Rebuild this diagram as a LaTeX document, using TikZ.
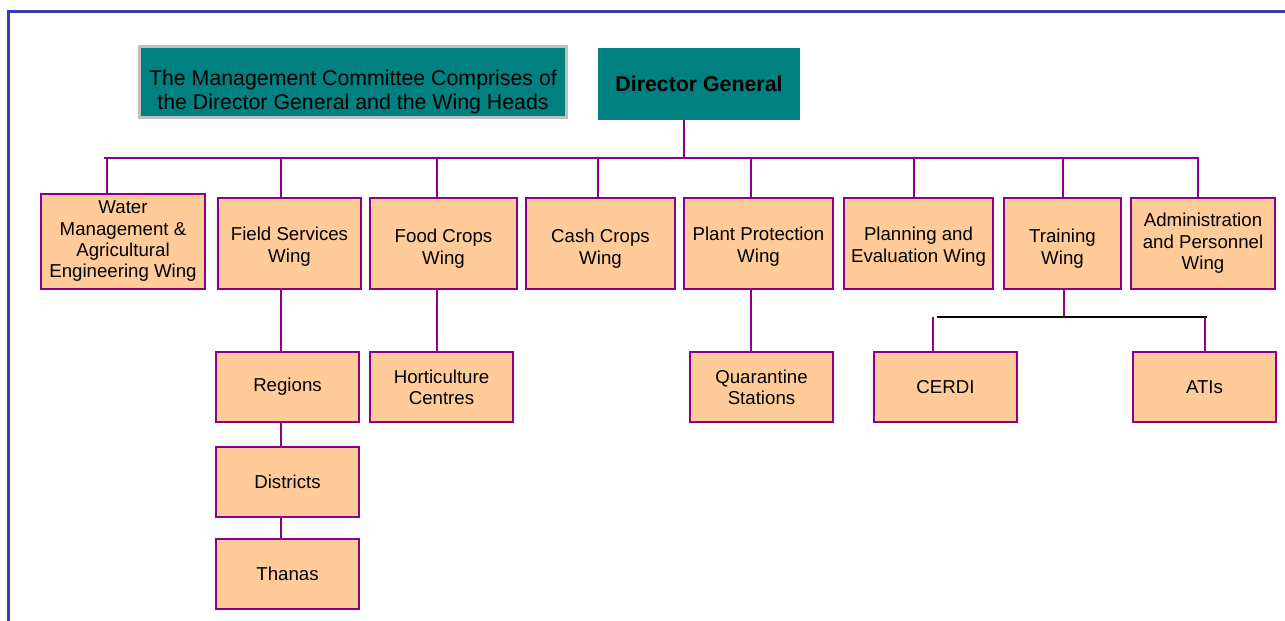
\documentclass[tikz,border=0pt]{standalone}
\usepackage{fontspec}
\setmainfont{Liberation Sans}
\usepackage{xcolor}
\usetikzlibrary{positioning}
\definecolor{wingfill}{RGB}{255,204,153}
\definecolor{wingline}{RGB}{140,0,140}
\definecolor{headfill}{RGB}{0,128,128}
\definecolor{notegray}{RGB}{192,192,192}
\definecolor{frameblue}{RGB}{60,60,170}

\begin{document}
\begin{tikzpicture}[
    x=0.75pt, y=-0.75pt,
    head/.style={fill=headfill, align=center, inner sep=2pt},
    wing/.style={draw=wingline, fill=wingfill, line width=1.5pt, align=center, inner sep=2pt, minimum height=68.25pt, font=\fontsize{14}{16}\selectfont},
    unit/.style={wing, minimum width=107.25pt, minimum height=52.5pt},
    link/.style={draw=wingline, line width=1.5pt},
    bar/.style={draw=black, line width=1.5pt}
]
\useasboundingbox (0,0) rectangle (1285,621);

% page frame
\draw[frameblue, line width=2.25pt] (8,621) -- (8,11) -- (1285,11);

% Top
\node[head, draw=notegray, line width=2.25pt, minimum width=320.25pt, minimum height=53.25pt, font=\fontsize{16}{18}\selectfont] (committee) at (353,82) {\rule{0pt}{26pt}The Management Committee Comprises of\\the Director General and the Wing Heads};
\node[head, minimum width=151.5pt, minimum height=54pt, font=\fontsize{16}{18}\selectfont\bfseries] (dg) at (699,84) {Director General};

% Wings
\node[wing, minimum width=123pt, minimum height=71.25pt] (water) at (123,241.5) {Water\\Management \&\\Agricultural\\Engineering Wing};
\node[wing, minimum width=107.25pt] (field) at (289.5,243.5) {\rule{0pt}{15pt}Field Services\\Wing};
\node[wing, minimum width=110.25pt] (food) at (443.5,243.5) {\rule{0pt}{18pt}Food Crops\\Wing};
\node[wing, minimum width=111.75pt] (cash) at (600.5,243.5) {\rule{0pt}{18pt}Cash Crops\\Wing};
\node[wing, minimum width=111.75pt] (plant) at (758.5,243.5) {\rule{0pt}{15pt}Plant Protection\\Wing};
\node[wing, minimum width=111.75pt] (planning) at (918.5,243.5) {\rule{0pt}{15pt}Planning and\\Evaluation Wing};
\node[wing, minimum width=87.75pt] (training) at (1062.5,243.5) {\rule{0pt}{18pt}Training\\Wing};
\node[wing, minimum width=108pt] (admin) at (1203,243.5) {Administration\\and Personnel\\Wing};

% Units
\node[unit] (regions) at (287.5,387) {Regions};
\node[unit] (districts) at (287.5,482) {Districts};
\node[unit] (thanas) at (287.5,574) {Thanas};
\node[unit] (hort) at (441.5,387) {Horticulture\\Centres};
\node[unit] (quarantine) at (761.5,387) {Quarantine\\Stations};
\node[unit] (cerdi) at (945.5,387) {CERDI};
\node[unit] (atis) at (1204.5,387) {ATIs};

% Bus
\coordinate (busL) at (104,158);
\coordinate (busR) at (1199,158);
\draw[link] (busL) -- (busR);
\draw[link] ([xshift=-11.25pt]dg.south) -- ([xshift=-11.25pt]dg.south |- busL);

\draw[link] ([xshift=-12pt]water.north) -- ([xshift=-12pt]water.north |- busL);
\draw[link] ([xshift=-6.4pt]field.north) -- ([xshift=-6.4pt]field.north |- busL);
\draw[link] ([xshift=-4.9pt]food.north) -- ([xshift=-4.9pt]food.north |- busL);
\draw[link] ([xshift=-1.9pt]cash.north) -- ([xshift=-1.9pt]cash.north |- busL);
\draw[link] ([xshift=-5.6pt]plant.north) -- ([xshift=-5.6pt]plant.north |- busL);
\draw[link] ([xshift=-3.4pt]planning.north) -- ([xshift=-3.4pt]planning.north |- busL);
\draw[link] (training.north) -- (training.north |- busL);
\draw[link] ([xshift=-3.75pt]admin.north) -- ([xshift=-3.75pt]admin.north |- busR);

% Lower links
\draw[link] ([xshift=-6.4pt]field.south) -- ([xshift=-6.4pt]field.south |- regions.north);
\draw[link] ([xshift=-5pt]regions.south) -- ([xshift=-5pt]districts.north);
\draw[link] ([xshift=-5pt]districts.south) -- ([xshift=-5pt]thanas.north);
\draw[link] ([xshift=-4.9pt]food.south) -- ([xshift=-4.9pt]food.south |- hort.north);
\draw[link] ([xshift=-5.6pt]plant.south) -- ([xshift=-5.6pt]plant.south |- quarantine.north);

\draw[link] ([xshift=1pt]training.south) -- ++(0,27) coordinate (tbus);
\draw[bar] ([xshift=-6.4pt]cerdi.north |- tbus) -- ([xshift=1.9pt]atis.north |- tbus);
\draw[link] ([xshift=-9.4pt]cerdi.north) -- ([xshift=-9.4pt]cerdi.north |- tbus);
\draw[link] (atis.north) -- (atis.north |- tbus);

\end{tikzpicture}
\end{document}
